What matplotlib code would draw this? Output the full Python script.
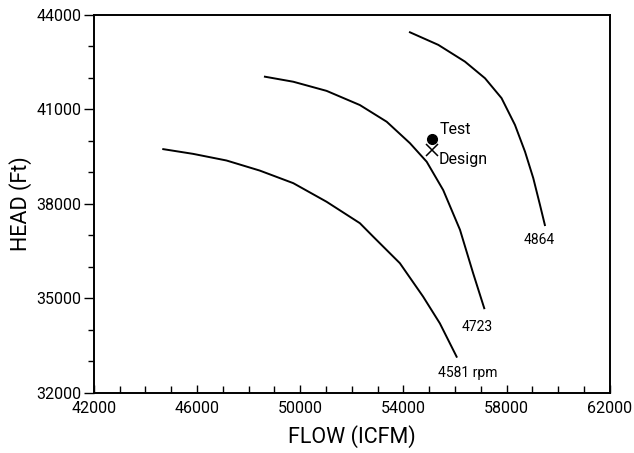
import matplotlib
matplotlib.use("Agg")
import matplotlib.pyplot as plt
from matplotlib.ticker import FixedLocator, MultipleLocator

# no narrow font installed, Roboto is the closest to the scanned lettering
plt.rcParams['font.family'] = ['Roboto', 'DejaVu Sans']

# speed lines (flow ICFM, head ft)
flow_4581 = [44690, 45850, 47140, 48430, 49730, 51020, 52310, 52830, 53860, 54760, 55410, 56060]
head_4581 = [39740, 39590, 39380, 39060, 38660, 38070, 37390, 36960, 36120, 35060, 34210, 33150]

flow_4723 = [48630, 49730, 51020, 52310, 53350, 54250, 54900, 55540, 56190, 56700, 57130]
head_4723 = [42040, 41880, 41590, 41140, 40610, 39930, 39340, 38440, 37180, 35800, 34690]

flow_4864 = [54250, 55350, 56380, 57160, 57800, 58320, 58710, 59030, 59290, 59480]
head_4864 = [43450, 43050, 42520, 41990, 41360, 40510, 39660, 38820, 37970, 37330]

test_pt = (55090, 40060)
design_pt = (55110, 39710)

x_ticks = [42000, 46000, 50000, 54000, 58000, 62000]
y_ticks = [32000, 35000, 38000, 41000, 44000]

fig = plt.figure(figsize=(6.34, 4.53), dpi=100)
ax = fig.add_axes([0.148, 0.1325, 0.814, 0.8345])

for f, h in [(flow_4581, head_4581), (flow_4723, head_4723), (flow_4864, head_4864)]:
    ax.plot(f, h, color='black', lw=1.4, solid_joinstyle='round')

ax.plot(*test_pt, 'o', color='black', ms=7)
ax.plot(*design_pt, 'x', color='black', ms=8, mew=1.1)
ax.text(55400, 40350, 'Test', fontsize=11.5, va='center')
ax.text(55350, 39400, 'Design', fontsize=11.5, va='center')

ax.text(59250, 36850, '4864', fontsize=10, ha='center', va='center')
ax.text(56850, 34100, '4723', fontsize=10, ha='center', va='center')
ax.text(55350, 32620, '4581 rpm', fontsize=10, ha='left', va='center')

ax.set_xlim(42000, 62000)
ax.set_ylim(32000, 44000)
ax.xaxis.set_major_locator(FixedLocator(x_ticks))
ax.xaxis.set_minor_locator(MultipleLocator(1000))
ax.yaxis.set_major_locator(FixedLocator(y_ticks))
ax.yaxis.set_minor_locator(MultipleLocator(1000))
ax.tick_params(axis='x', which='both', direction='in', labelsize=11.5, pad=6)
ax.tick_params(axis='x', which='major', length=6, width=1)
ax.tick_params(axis='x', which='minor', length=5, width=1)
ax.tick_params(axis='y', which='major', direction='out', length=7, width=1, labelsize=11.5, pad=2)
ax.tick_params(axis='y', which='minor', direction='out', length=4, width=1)
for s in ax.spines.values():
    s.set_linewidth(1.4)

ax.set_xlabel('FLOW (ICFM)', fontsize=15.5, labelpad=6)
ax.set_ylabel('HEAD (Ft)', fontsize=15.5, labelpad=3)

fig.savefig('out.png', dpi=100)
